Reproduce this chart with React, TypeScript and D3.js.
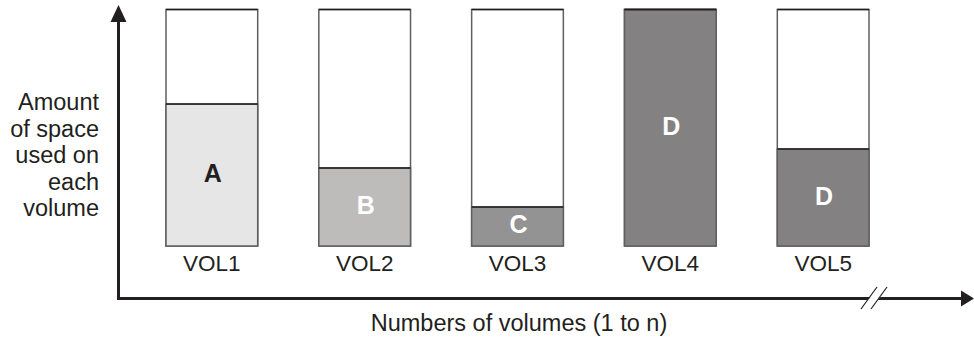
import React from "react";
import * as d3 from "d3";

const categories = ["VOL1", "VOL2", "VOL3", "VOL4", "VOL5"];
const usedFraction = [0.6, 0.33, 0.165, 1.0, 0.41];
const fileLabels = ["A", "B", "C", "D", "D"];
const fillColors = ["#e6e6e6", "#bdbcbb", "#939393", "#838182", "#838182"];
const labelColors = ["#231f20", "#ffffff", "#ffffff", "#ffffff", "#ffffff"];
const yTitleLines = ["Amount", "of space", "used on", "each", "volume"];
const xTitle = "Numbers of volumes (1 to n)";

const W = 974;
const H = 339;
const FONT = "'Liberation Sans', Arial, Helvetica, sans-serif";
const INK = "#231f20";

export default function App() {
  const x = d3.scaleBand<string>().domain(categories).range([166, 869]).paddingInner(0.4).paddingOuter(0);
  const y = d3.scaleLinear().domain([0, 1]).range([246, 9.5]);
  const axisX = 118.5;
  const axisY = 298.5;

  return (
    <svg width={W} height={H} style={{ position: "absolute", left: 0, top: 0, background: "#fff" }}>
      {categories.map((c, i) => {
        const x0 = x(c)!;
        const bw = x.bandwidth();
        const top = y(usedFraction[i]);
        return (
          <g key={c}>
            <rect x={x0} y={y(1)} width={bw} height={y(0) - y(1)} fill="#fff" stroke="#5e5f61" strokeWidth={1.5} />
            <rect x={x0} y={top} width={bw} height={y(0) - top} fill={fillColors[i]} stroke="#5e5f61" strokeWidth={1.5} />
            <line x1={x0} x2={x0 + bw} y1={y(1)} y2={y(1)} stroke={INK} strokeWidth={1.5} />
            <line x1={x0} x2={x0 + bw} y1={top} y2={top} stroke={INK} strokeWidth={1.5} />
            <text
              x={x0 + bw / 2 + 1}
              y={(top + y(0)) / 2 - 2}
              textAnchor="middle"
              dominantBaseline="central"
              fontFamily={FONT}
              fontWeight="bold"
              fontSize={25}
              fill={labelColors[i]}
            >
              {fileLabels[i]}
            </text>
            <text x={x0 + bw / 2} y={271} textAnchor="middle" fontFamily={FONT} fontSize={22.5} fill={INK}>
              {c}
            </text>
          </g>
        );
      })}

      {/* axes */}
      <line x1={axisX} x2={axisX} y1={20} y2={axisY + 1.5} stroke={INK} strokeWidth={3} />
      <path d={`M${axisX},5 L${axisX + 8},22 L${axisX - 8},22 Z`} fill={INK} />
      <line x1={axisX - 1.5} x2={963} y1={axisY} y2={axisY} stroke={INK} strokeWidth={3} />
      <path d={`M974,${axisY} L961,${axisY - 8} L961,${axisY + 8} Z`} fill={INK} />
      {/* break */}
      <polygon points={`866,${axisY + 3} 876,${axisY + 3} 882,${axisY - 3} 872,${axisY - 3}`} fill="#fff" />
      <line x1={861} y1={309} x2={877} y2={287} stroke={INK} strokeWidth={1.2} />
      <line x1={871} y1={309} x2={887} y2={287} stroke={INK} strokeWidth={1.2} />

      {/* y title */}
      {yTitleLines.map((t, i) => (
        <text key={t} x={99} y={110 + i * 26.5} textAnchor="end" fontFamily={FONT} fontSize={23.5} fill={INK}>
          {t}
        </text>
      ))}
      <text x={519} y={331} textAnchor="middle" fontFamily={FONT} fontSize={23.5} fill={INK}>
        {xTitle}
      </text>
    </svg>
  );
}
